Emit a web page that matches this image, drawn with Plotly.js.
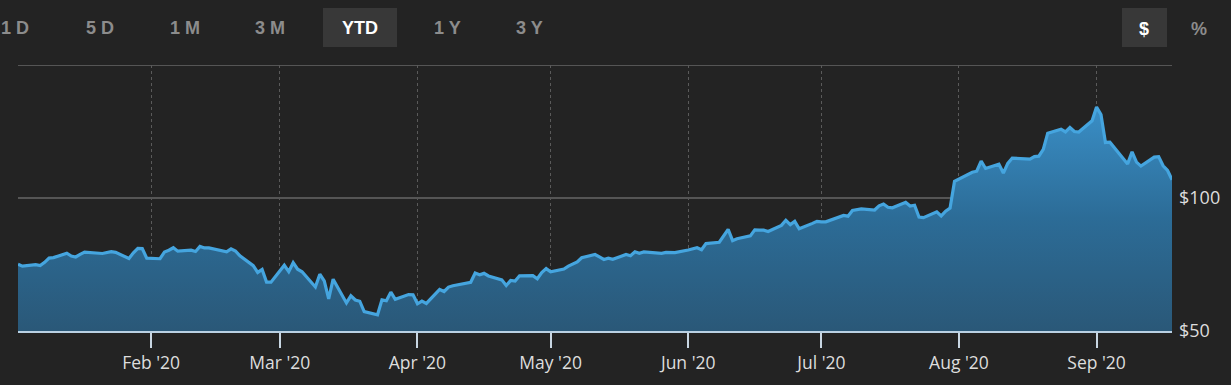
<!DOCTYPE html>
<html>
<head>
<meta charset="utf-8">
<script src="https://cdn.plot.ly/plotly-3.0.1.min.js"></script>
<style>
html,body{margin:0;padding:0;background:#232323;}
#chart{width:1231px;height:385px;}
</style>
</head>
<body>
<div id="chart"></div>
<script>
const dates = [
"2020-01-02","2020-01-03","2020-01-06","2020-01-07","2020-01-08","2020-01-09","2020-01-10","2020-01-13","2020-01-14","2020-01-15","2020-01-16","2020-01-17","2020-01-21","2020-01-22","2020-01-23","2020-01-24","2020-01-27","2020-01-28","2020-01-29","2020-01-30","2020-01-31",
"2020-02-03","2020-02-04","2020-02-05","2020-02-06","2020-02-07","2020-02-10","2020-02-11","2020-02-12","2020-02-13","2020-02-14","2020-02-18","2020-02-19","2020-02-20","2020-02-21","2020-02-24","2020-02-25","2020-02-26","2020-02-27","2020-02-28",
"2020-03-02","2020-03-03","2020-03-04","2020-03-05","2020-03-06","2020-03-09","2020-03-10","2020-03-11","2020-03-12","2020-03-13","2020-03-16","2020-03-17","2020-03-18","2020-03-19","2020-03-20","2020-03-23","2020-03-24","2020-03-25","2020-03-26","2020-03-27","2020-03-30","2020-03-31",
"2020-04-01","2020-04-02","2020-04-03","2020-04-06","2020-04-07","2020-04-08","2020-04-09","2020-04-13","2020-04-14","2020-04-15","2020-04-16","2020-04-17","2020-04-20","2020-04-21","2020-04-22","2020-04-23","2020-04-24","2020-04-27","2020-04-28","2020-04-29","2020-04-30",
"2020-05-01","2020-05-04","2020-05-05","2020-05-06","2020-05-07","2020-05-08","2020-05-11","2020-05-12","2020-05-13","2020-05-14","2020-05-15","2020-05-18","2020-05-19","2020-05-20","2020-05-21","2020-05-22","2020-05-26","2020-05-27","2020-05-28","2020-05-29",
"2020-06-01","2020-06-02","2020-06-03","2020-06-04","2020-06-05","2020-06-08","2020-06-09","2020-06-10","2020-06-11","2020-06-12","2020-06-15","2020-06-16","2020-06-17","2020-06-18","2020-06-19","2020-06-22","2020-06-23","2020-06-24","2020-06-25","2020-06-26","2020-06-29","2020-06-30",
"2020-07-01","2020-07-02","2020-07-06","2020-07-07","2020-07-08","2020-07-09","2020-07-10","2020-07-13","2020-07-14","2020-07-15","2020-07-16","2020-07-17","2020-07-20","2020-07-21","2020-07-22","2020-07-23","2020-07-24","2020-07-27","2020-07-28","2020-07-29","2020-07-30","2020-07-31",
"2020-08-03","2020-08-04","2020-08-05","2020-08-06","2020-08-07","2020-08-10","2020-08-11","2020-08-12","2020-08-13","2020-08-14","2020-08-17","2020-08-18","2020-08-19","2020-08-20","2020-08-21","2020-08-24","2020-08-25","2020-08-26","2020-08-27","2020-08-28","2020-08-31",
"2020-09-01","2020-09-02","2020-09-03","2020-09-04","2020-09-08","2020-09-09","2020-09-10","2020-09-11","2020-09-14","2020-09-15","2020-09-16","2020-09-17","2020-09-18"
];
const prices = [
75.09,74.36,74.95,74.60,75.80,77.41,77.58,79.24,78.17,77.83,78.81,79.68,79.14,79.43,79.81,79.58,77.24,79.42,81.08,80.97,77.38,
77.17,79.71,80.36,81.30,80.01,80.39,79.90,81.80,81.22,81.24,79.75,80.90,80.07,78.26,74.54,72.02,73.16,68.38,68.34,
74.70,72.33,75.68,73.23,72.26,66.54,71.33,68.86,62.06,69.49,60.55,63.22,61.67,61.19,57.31,56.09,61.72,61.38,64.61,61.94,63.70,63.57,
60.23,61.23,60.35,65.62,64.86,66.52,67.00,68.31,71.76,71.11,71.67,70.70,69.23,67.09,69.03,68.76,70.74,70.79,69.64,71.93,73.45,
72.27,73.29,74.39,75.16,75.94,77.53,78.75,77.85,76.91,77.39,76.93,78.74,78.29,79.81,79.21,79.72,79.18,79.53,79.56,79.49,
80.46,80.84,81.28,80.58,82.88,83.36,86.00,88.21,83.98,84.70,85.75,88.02,87.90,87.93,87.43,89.72,91.63,90.02,91.21,88.41,90.45,91.20,
91.03,91.03,93.46,93.17,95.34,95.75,95.92,95.48,97.06,97.73,96.52,96.33,98.36,97.00,97.27,92.85,92.62,94.81,93.25,95.04,96.19,106.26,
108.94,109.67,110.06,113.90,111.11,112.73,109.38,113.01,115.01,114.91,114.61,115.56,115.71,118.28,124.37,125.86,124.83,126.52,125.01,124.81,129.04,
134.18,131.40,120.88,120.96,112.82,117.32,113.49,112.00,115.36,115.54,112.13,110.34,106.84
];
const monthTicks = ["2020-02-01","2020-03-01","2020-04-01","2020-05-01","2020-06-01","2020-07-01","2020-08-01","2020-09-01"];
const monthLabels = ["Feb '20","Mar '20","Apr '20","May '20","Jun '20","Jul '20","Aug '20","Sep '20"];
const priceTicks = [50,100,150];
const priceLabels = ["$50","$100",""];
const rangeButtons = ["1 D","5 D","1 M","3 M","YTD","1 Y","3 Y"];
const rangeCenters = [15,100,185,270,360,447,529];
const unitButtons = ["$","%"];
const unitCenters = [1144,1199];

// plot-area pixel geometry
const L = 18, R = 1172, T = 65, B = 331;
const px = x => (x - L) / (R - L);
const py = y => (B - y) / (B - T);

const annotations = [];
const shapes = [];
rangeButtons.forEach((t, i) => {
  const sel = t === "YTD";
  annotations.push({xref:"paper", yref:"paper", x:px(rangeCenters[i]), y:py(28), text:"<b>"+t+"</b>",
    showarrow:false, xanchor:"center", yanchor:"middle",
    font:{family:"Liberation Sans, Arial, sans-serif", size:18, color: sel ? "#ffffff" : "#8c8c8c"}});
  if (sel) shapes.push({type:"rect", xref:"paper", yref:"paper", x0:px(323), x1:px(397), y0:py(47), y1:py(8),
    fillcolor:"#383838", line:{width:0}, layer:"below"});
});
unitButtons.forEach((t, i) => {
  const sel = t === "$";
  annotations.push({xref:"paper", yref:"paper", x:px(unitCenters[i]), y:py(29), text:"<b>"+t+"</b>",
    showarrow:false, xanchor:"center", yanchor:"middle",
    font:{family:"Liberation Sans, Arial, sans-serif", size:18, color: sel ? "#ffffff" : "#8c8c8c"}});
  if (sel) shapes.push({type:"rect", xref:"paper", yref:"paper", x0:px(1122), x1:px(1167), y0:py(47), y1:py(8),
    fillcolor:"#383838", line:{width:0}, layer:"below"});
});
// horizontal gridline at top value
shapes.push({type:"line", xref:"paper", yref:"y", x0:0, x1:1, y0:150, y1:150, line:{color:"#555555", width:2}, layer:"below"});

const trace = {
  x: dates, y: prices, type:"scatter", mode:"lines",
  line:{color:"#45a5df", width:3.2},
  fill:"tozeroy",
  fillgradient:{type:"vertical", start:50, stop:135,
    colorscale:[[0,"#2a5878"],[0.5,"#2c6c97"],[1,"#3a8fc7"]]},
  hoverinfo:"skip"
};

const layout = {
  width:1231, height:385,
  paper_bgcolor:"#232323", plot_bgcolor:"#232323",
  margin:{l:L, r:1231-R, t:T, b:385-B},
  showlegend:false,
  xaxis:{type:"date", range:["2020-01-02","2020-09-18"],
    tickvals:monthTicks, ticktext:monthLabels,
    showgrid:true, gridcolor:"#5a5a5a", griddash:"dot", gridwidth:1,
    showline:true, linecolor:"#b9d0e2", linewidth:2,
    ticks:"outside", ticklen:15, tickwidth:2, tickcolor:"#c8d6e2",
    tickfont:{family:"Open Sans, sans-serif", size:17.5, color:"#dddddd"},
    zeroline:false, fixedrange:true},
  yaxis:{range:[50,150], side:"right", tickvals:priceTicks, ticktext:priceLabels,
    showgrid:true, gridcolor:"#555555", gridwidth:2,
    ticks:"", tickfont:{family:"Open Sans, sans-serif", size:18, color:"#dddddd"},
    showline:false, zeroline:false, fixedrange:true, ticklabelstandoff:6},
  shapes: shapes,
  annotations: annotations
};

Plotly.newPlot("chart", [trace], layout, {displayModeBar:false, staticPlot:true});
</script>
</body>
</html>
